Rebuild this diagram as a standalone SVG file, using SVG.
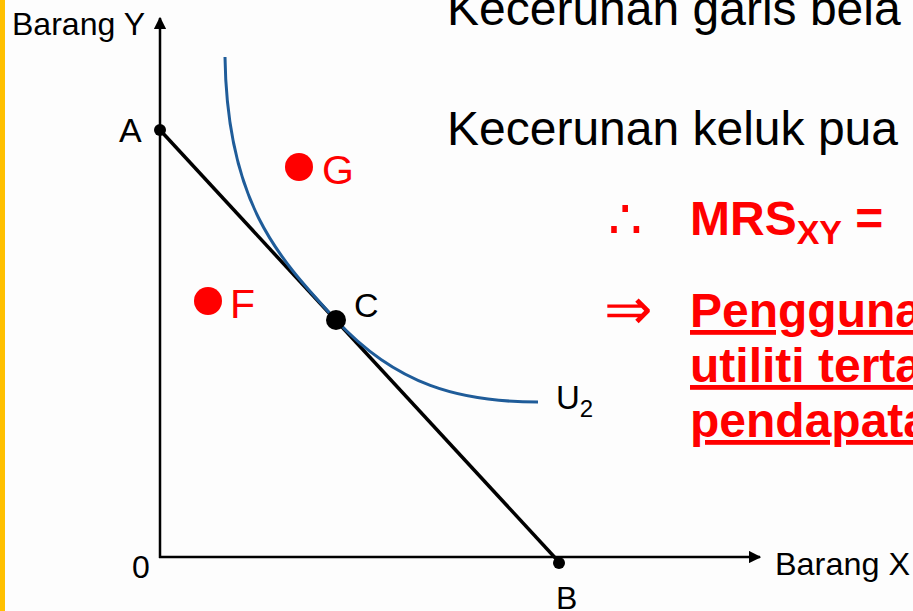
<svg xmlns="http://www.w3.org/2000/svg" width="913" height="611" viewBox="0 0 913 611">
<defs>
<style>
.lbl{font-family:"Liberation Sans",Arial,sans-serif;fill:#000}
.red{font-family:"Liberation Sans",Arial,sans-serif;fill:#FF0000}
.redb{font-family:"Liberation Sans",Arial,sans-serif;fill:#FF0000;font-weight:bold;text-decoration:underline}
.ax{stroke:#000;stroke-width:2.5;fill:none}
</style>
<marker id="arr" viewBox="0 0 10 10" refX="9" refY="5" markerWidth="5" markerHeight="5" orient="auto" markerUnits="strokeWidth">
<path d="M0,0 L10,5 L0,10 z" fill="#000"/>
</marker>
</defs>
<rect x="0" y="0" width="913" height="611" fill="#FDFDFD"/>
<rect x="0" y="0" width="5" height="611" fill="#FFC000"/>
<g id="connectors">
<line class="ax" x1="160" y1="558" x2="160" y2="18" marker-end="url(#arr)"/>
<line class="ax" x1="159" y1="557" x2="760" y2="557" marker-end="url(#arr)"/>
<line x1="160" y1="130" x2="559" y2="562" stroke="#000" stroke-width="3.5"/>
<path d="M225,57 C227,205 280,259 336,320 C396,385 460,402 538,402" fill="none" stroke="#1F5C99" stroke-width="3"/>
</g>
<g id="axis-labels">
<text class="lbl" x="12" y="35" font-size="32" textLength="133" lengthAdjust="spacingAndGlyphs">Barang Y</text>
<text class="lbl" x="775" y="575" font-size="32" textLength="135" lengthAdjust="spacingAndGlyphs">Barang X</text>
<text class="lbl" x="132" y="578" font-size="32">0</text>
</g>
<g id="A"><circle cx="160" cy="130" r="6" fill="#000"/><text class="lbl" x="119" y="142" font-size="34">A</text></g>
<g id="B"><circle cx="559" cy="563" r="6" fill="#000"/><text class="lbl" x="556" y="609" font-size="32">B</text></g>
<g id="C"><circle cx="336" cy="320" r="10" fill="#000"/><text class="lbl" x="354" y="317" font-size="34">C</text></g>
<g id="G"><circle cx="299" cy="167" r="14" fill="#FF0000"/><text class="red" x="322" y="184" font-size="41">G</text></g>
<g id="F"><circle cx="208" cy="301" r="14" fill="#FF0000"/><text class="red" x="230" y="318" font-size="41">F</text></g>
<g id="U2"><text class="lbl" x="556" y="409" font-size="33">U<tspan font-size="24" dy="8">2</tspan></text></g>
<g id="text-right">
<text class="lbl" x="447" y="25" font-size="48">Kecerunan garis bela</text>
<text class="lbl" x="447" y="145" font-size="48">Kecerunan keluk pua</text>
<text class="red" x="608" y="238" font-size="54">∴</text>
<text class="red" x="690" y="235" font-size="48" font-weight="bold">MRS<tspan font-size="34" dy="9">XY</tspan><tspan dy="-9"> =</tspan></text>
<text class="red" x="604" y="329" font-size="58">⇒</text>
<text class="redb" x="690" y="327" font-size="48">Pengguna</text>
<text class="redb" x="690" y="382" font-size="48">utiliti terta</text>
<text class="redb" x="690" y="437" font-size="48">pendapata</text>
</g>
</svg>
